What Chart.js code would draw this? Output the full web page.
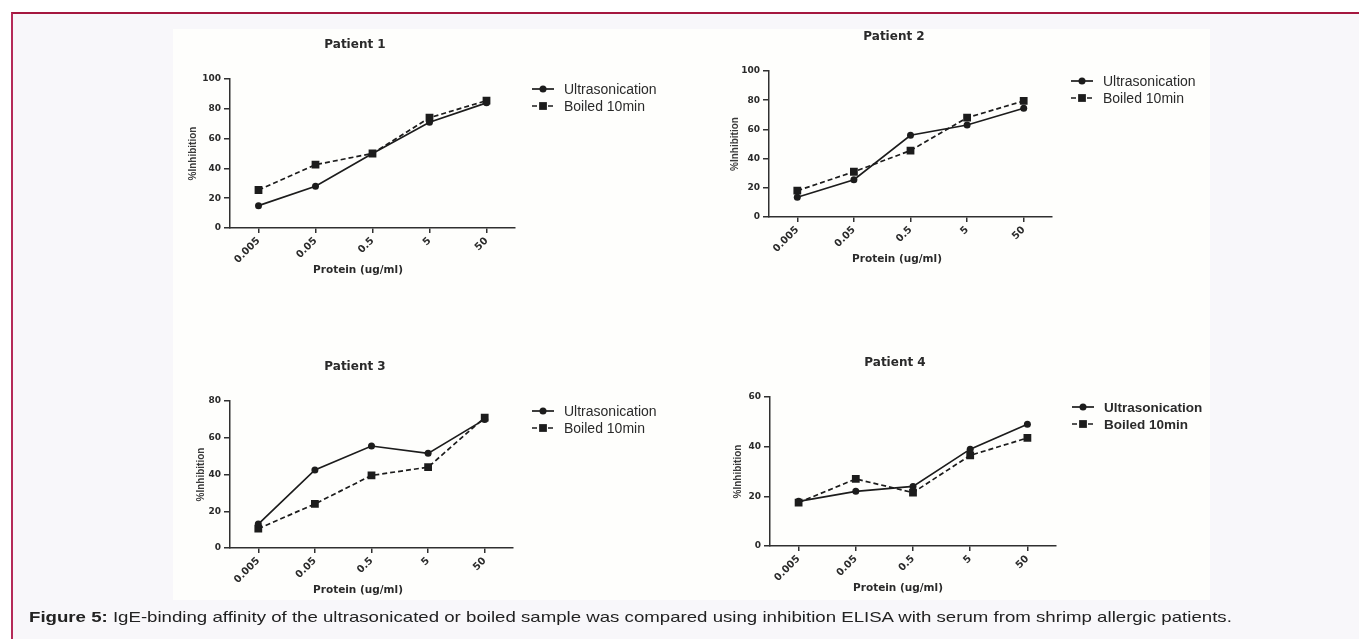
<!DOCTYPE html>
<html>
<head>
<meta charset="utf-8">
<script src="https://cdn.jsdelivr.net/npm/chart.js@4.4.1/dist/chart.umd.min.js"></script>
<style>
  html, body { margin: 0; padding: 0; background: #fff; width: 1359px; height: 639px; overflow: hidden; }
  #frame { position: absolute; left: 11px; top: 12px; width: 1348px; height: 627px; box-sizing: border-box;
           border-top: 2px solid #a5173f; border-left: 2px solid #b52a58; background: #f8f7fa; }
  #figure { position: absolute; left: 173px; top: 29px; width: 1037px; height: 571px; background: #fefefc; }
  canvas { position: absolute; }
  #caption { position: absolute; left: 29px; top: 608px; margin: 0; white-space: nowrap;
             font: 15px "Liberation Sans", Arial, sans-serif; color: #222;
             transform: scaleX(1.243); transform-origin: 0 50%; }
</style>
</head>
<body>
<div id="frame"></div>
<div id="figure"></div>
<canvas id="p1"></canvas>
<canvas id="p2"></canvas>
<canvas id="p3"></canvas>
<canvas id="p4"></canvas>
<p id="caption"><b>Figure 5:</b> IgE-binding affinity of the ultrasonicated or boiled sample was compared using inhibition ELISA with serum from shrimp allergic patients.</p>
<script>
const doses = ['0.005', '0.05', '0.5', '5', '50'];
const seriesNames = ['Ultrasonication', 'Boiled 10min'];
const panelTitles = ['Patient 1', 'Patient 2', 'Patient 3', 'Patient 4'];
const xAxisTitle = 'Protein (ug/ml)';
const yAxisTitle = '%Inhibition';
const yMaxes = [100, 100, 80, 60];

const p1Ultra = [15, 28, 50, 71, 84];
const p1Boiled = [25.5, 42.5, 50, 74, 85.5];
const p2Ultra = [13.5, 25.5, 56, 63, 74.5];
const p2Boiled = [18, 31, 45.5, 68, 79.5];
const p3Ultra = [13, 42.5, 55.5, 51.5, 70];
const p3Boiled = [10.5, 24, 39.5, 44, 71];
const p4Ultra = [18, 22, 24, 39, 49];
const p4Boiled = [17.5, 27, 21.5, 36.5, 43.5];

const ultraSeries = [p1Ultra, p2Ultra, p3Ultra, p4Ultra];
const boiledSeries = [p1Boiled, p2Boiled, p3Boiled, p4Boiled];

// page position of each plot area (axis box)
const panels = [
  { left: 230, right: 515, top: 79, bottom: 228, yTitle: 17, boldLegend: false },
  { left: 769, right: 1052, top: 71, bottom: 217, yTitle: 20, boldLegend: false },
  { left: 230, right: 513, top: 401, bottom: 548, yTitle: 25, boldLegend: false },
  { left: 770, right: 1056, top: 397, bottom: 546, yTitle: 22, boldLegend: true },
];

const ink = '#1c1c1c';
const axisInk = '#303030';

const panelText = {
  id: 'panelText',
  afterDraw(chart, args, opts) {
    const { ctx, chartArea: a } = chart;
    ctx.save();
    ctx.fillStyle = '#2a2a2a';
    ctx.textAlign = 'center';
    ctx.textBaseline = 'middle';
    ctx.font = 'bold 12px "DejaVu Sans"';
    ctx.fillText(opts.title, a.left + 125, a.top - 34);
    ctx.font = 'bold 10.5px "DejaVu Sans"';
    ctx.fillText(xAxisTitle, a.left + 128, a.bottom + 42);

    chart.data.datasets.forEach((ds, i) => {
      const y = a.top + 10 + i * 17;
      const x1 = a.left + 302;
      const x2 = a.left + 324;
      ctx.strokeStyle = ds.borderColor;
      ctx.lineWidth = 1.7;
      ctx.setLineDash(ds.borderDash || []);
      ctx.beginPath();
      ctx.moveTo(x1, y);
      ctx.lineTo(x2, y);
      ctx.stroke();
      ctx.setLineDash([]);
      ctx.fillStyle = ds.pointBackgroundColor;
      Chart.helpers.drawPoint(ctx, { pointStyle: ds.pointStyle, radius: ds.pointRadius, rotation: 0, borderWidth: 0 }, (x1 + x2) / 2, y);
      ctx.fillStyle = '#2a2a2a';
      ctx.textAlign = 'left';
      ctx.font = opts.boldLegend ? 'bold 13.5px "Liberation Sans"' : '14px "Liberation Sans"';
      ctx.fillText(ds.label, a.left + 334, y + 1);
    });
    ctx.restore();
  },
};

function buildPanel(index) {
  const geo = panels[index];
  const canvas = document.getElementById('p' + (index + 1));
  const width = 500;
  const plotH = geo.bottom - geo.top;
  const height = plotH + 50 + 66;
  canvas.width = width;
  canvas.height = height;
  canvas.style.left = (geo.left - 60) + 'px';
  canvas.style.top = (geo.top - 50) + 'px';

  const datasets = [
    {
      label: seriesNames[0],
      data: ultraSeries[index],
      borderColor: ink,
      backgroundColor: ink,
      pointBackgroundColor: ink,
      borderWidth: 1.7,
      pointStyle: 'circle',
      pointRadius: 3.5,
      pointBorderWidth: 0,
      tension: 0,
    },
    {
      label: seriesNames[1],
      data: boiledSeries[index],
      borderColor: ink,
      backgroundColor: ink,
      pointBackgroundColor: ink,
      borderWidth: 1.7,
      borderDash: [5, 3],
      pointStyle: 'rect',
      pointRadius: 5.5,
      pointBorderWidth: 0,
      tension: 0,
    },
  ];

  return new Chart(canvas, {
    type: 'line',
    data: { labels: doses, datasets },
    plugins: [panelText],
    options: {
      responsive: false,
      animation: false,
      layout: {
        padding: { left: 0, top: 50, right: width - 60 - (geo.right - geo.left), bottom: height - 50 - plotH - 60 },
      },
      plugins: {
        legend: { display: false },
        title: { display: false },
        tooltip: { enabled: false },
        panelText: { title: panelTitles[index], boldLegend: geo.boldLegend },
      },
      scales: {
        x: {
          type: 'category',
          offset: true,
          afterFit: (scale) => { scale.height = 60; },
          border: { display: true, color: axisInk, width: 1.5 },
          grid: { display: true, drawOnChartArea: false, drawTicks: true, tickLength: 5, color: axisInk, lineWidth: 1.5, offset: false },
          ticks: {
            autoSkip: false,
            minRotation: 45,
            maxRotation: 45,
            padding: 2,
            color: '#2a2a2a',
            font: { family: 'DejaVu Sans', weight: 'bold', size: 10 },
          },
        },
        y: {
          min: 0,
          max: yMaxes[index],
          afterFit: (scale) => { scale.width = 60; },
          border: { display: true, color: axisInk, width: 1.5 },
          grid: { display: true, drawOnChartArea: false, drawTicks: true, tickLength: 6, color: axisInk, lineWidth: 1.5 },
          ticks: {
            stepSize: 20,
            padding: 3,
            color: '#2a2a2a',
            font: { family: 'DejaVu Sans', weight: 'bold', size: 9 },
          },
          title: {
            display: true,
            text: yAxisTitle,
            color: '#3a3a3a',
            padding: { top: geo.yTitle, bottom: 0 },
            font: { family: 'Liberation Sans', weight: 'bold', size: 10 },
          },
        },
      },
    },
  });
}

panels.forEach((geo, i) => buildPanel(i));
</script>
</body>
</html>
